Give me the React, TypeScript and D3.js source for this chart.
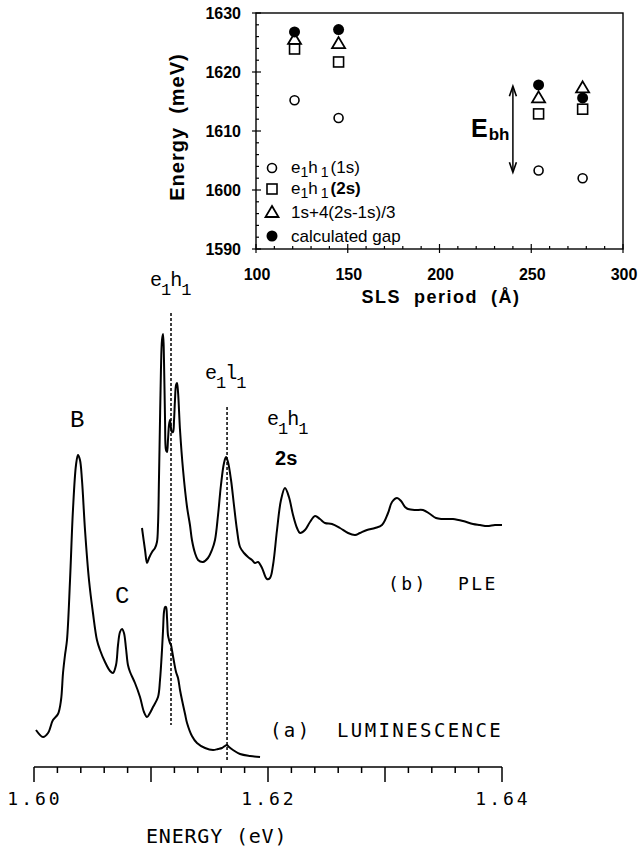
import React from 'react';
import * as d3 from 'd3';

const W = 639;
const H = 848;

// (a) luminescence spectrum: [energy (eV), intensity (a.u.)]
const lumSpectrum: [number, number][] = [
  [1.60017, 0.74], [1.60077, 0.6], [1.6012, 0.68], [1.60162, 0.94], [1.60205, 1.06],
  [1.60231, 1.34], [1.60248, 1.88], [1.60265, 2.24], [1.60282, 2.54], [1.60308, 3.74],
  [1.60333, 5.14], [1.60359, 6.04], [1.60376, 6.24], [1.60393, 6.14], [1.6041, 5.74],
  [1.60436, 4.74], [1.6047, 3.74], [1.60504, 3.08], [1.60538, 2.54], [1.60564, 2.34],
  [1.60607, 2.1], [1.6065, 1.92], [1.60675, 1.88], [1.60701, 2.04], [1.60718, 2.44],
  [1.60735, 2.7], [1.60752, 2.76], [1.60769, 2.68], [1.60786, 2.38], [1.60803, 2.04],
  [1.60821, 1.9], [1.60863, 1.68], [1.60906, 1.4], [1.6094, 1.1], [1.60966, 1.0],
  [1.60991, 1.08], [1.61017, 1.2], [1.6106, 1.4], [1.61077, 1.74], [1.61094, 2.34],
  [1.61103, 2.74], [1.61111, 3.1], [1.6112, 3.2], [1.61128, 3.2], [1.61137, 2.98],
  [1.61145, 2.64], [1.61154, 2.54], [1.61162, 2.48], [1.61171, 2.44], [1.61179, 2.34],
  [1.61197, 2.1], [1.61214, 1.9], [1.61231, 1.78], [1.61248, 1.54], [1.61265, 1.34],
  [1.61291, 1.06], [1.61308, 0.88], [1.6135, 0.62], [1.61393, 0.48], [1.61462, 0.38],
  [1.6153, 0.34], [1.61573, 0.36], [1.61607, 0.38], [1.61632, 0.42], [1.6165, 0.44],
  [1.61667, 0.4], [1.61701, 0.34], [1.61761, 0.26], [1.61846, 0.22], [1.61932, 0.2],
];

// (b) PLE spectrum: [energy (eV), intensity (a.u.)]
const pleSpectrum: [number, number][] = [
  [1.60923, 4.78], [1.60949, 4.34], [1.60966, 4.08], [1.60983, 4.18], [1.61009, 4.3],
  [1.61034, 4.38], [1.61051, 4.5], [1.6106, 4.84], [1.61068, 5.74], [1.61077, 6.94],
  [1.61085, 7.94], [1.61094, 8.54], [1.61103, 8.66], [1.61111, 8.14], [1.6112, 6.94],
  [1.61128, 6.34], [1.61137, 6.3], [1.61145, 6.54], [1.61154, 6.84], [1.61162, 6.94],
  [1.61171, 6.78], [1.61179, 6.7], [1.61188, 6.7], [1.61197, 6.94], [1.61205, 7.34],
  [1.61214, 7.64], [1.61222, 7.68], [1.61231, 7.5], [1.61248, 6.74], [1.61274, 5.94],
  [1.61308, 5.2], [1.61333, 4.84], [1.6135, 4.54], [1.61376, 4.28], [1.61402, 4.14],
  [1.61444, 4.1], [1.61487, 4.18], [1.61521, 4.34], [1.61547, 4.54], [1.61573, 5.04],
  [1.61598, 5.64], [1.61624, 6.08], [1.61641, 6.2], [1.61658, 6.1], [1.61684, 5.74],
  [1.61709, 5.24], [1.61735, 4.74], [1.61761, 4.4], [1.61795, 4.28], [1.61829, 4.2],
  [1.61863, 4.14], [1.61889, 4.08], [1.61915, 4.1], [1.61949, 3.98], [1.61991, 3.76],
  [1.62017, 3.78], [1.62043, 4.04], [1.62077, 4.74], [1.62111, 5.34], [1.62145, 5.58],
  [1.62179, 5.4], [1.62214, 5.04], [1.62248, 4.78], [1.62274, 4.68], [1.62316, 4.74],
  [1.62359, 4.9], [1.62402, 5.02], [1.62444, 4.96], [1.62487, 4.88], [1.62547, 4.86],
  [1.62615, 4.78], [1.62684, 4.68], [1.62744, 4.64], [1.62786, 4.68], [1.62846, 4.74],
  [1.62915, 4.78], [1.62974, 4.84], [1.63026, 5.08], [1.6306, 5.3], [1.63103, 5.38],
  [1.63137, 5.32], [1.63171, 5.2], [1.63197, 5.16], [1.63256, 5.14], [1.63325, 5.14],
  [1.63385, 5.06], [1.63436, 4.98], [1.63487, 4.96], [1.63581, 4.96], [1.63667, 4.92],
  [1.63752, 4.86], [1.63812, 4.84], [1.63872, 4.82], [1.6394, 4.84], [1.64, 4.84],
];

// dashed markers for e1h1 and e1l1
const transitionEnergy = [1.61171, 1.6165];
const transitionTop = [9.08, 7.2];
const transitionBottom = [0.84, 0.14];

const energyTickLabels = [1.6, 1.62, 1.64];

// inset: SLS period dependence
const periods = [121, 145, 254, 278];
const e1h1_1s = [1615.2, 1612.2, 1603.3, 1602.0];
const e1h1_2s = [1623.9, 1621.7, 1612.9, 1613.7];
const extrapolated = [1625.6, 1624.9, 1615.7, 1617.4];
const calcGap = [1626.8, 1627.2, 1617.8, 1615.6];

const insetYTicks = [1590, 1600, 1610, 1620, 1630];
const insetXTicks = [100, 150, 200, 250, 300];

const mono = 'DejaVu Sans Mono, monospace';
const courier = 'Liberation Mono, Courier New, monospace';
const sans = 'Liberation Sans, Arial, Helvetica, sans-serif';

const x = d3.scaleLinear().domain([1.6, 1.64]).range([34, 502]);
const y = d3.scaleLinear().domain([0, 9.4]).range([767, 297]);

const ix = d3.scaleLinear().domain([100, 300]).range([256, 623]);
const iy = d3.scaleLinear().domain([1590, 1630]).range([249, 13]);

const spectrumLine = d3
  .line<[number, number]>()
  .x((d) => x(d[0]))
  .y((d) => y(d[1]))
  .curve(d3.curveCatmullRom.alpha(0.5));

// label like e1h1 with dropped subscripts
const SubLabel = ({ px, py, a, b }: { px: number; py: number; a: string; b: string }) => (
  <text x={px} y={py} fontFamily={courier} fontSize={20} fill="#000">
    {a}
    <tspan dx={-1} dy={9} fontSize={17}>1</tspan>
    <tspan dx={-1} dy={-9}>{b}</tspan>
    <tspan dx={-1} dy={9} fontSize={17}>1</tspan>
  </text>
);

const OpenCircle = ({ cx, cy }: { cx: number; cy: number }) => (
  <circle cx={cx} cy={cy} r={4.5} fill="#fff" stroke="#000" strokeWidth={1.6} />
);
const OpenSquare = ({ cx, cy }: { cx: number; cy: number }) => (
  <rect x={cx - 5} y={cy - 5} width={10} height={10} fill="#fff" stroke="#000" strokeWidth={1.6} />
);
const OpenTriangle = ({ cx, cy }: { cx: number; cy: number }) => (
  <path d={`M${cx},${cy - 6}L${cx + 6.5},${cy + 5}L${cx - 6.5},${cy + 5}Z`} fill="#fff" stroke="#000" strokeWidth={1.8} />
);
const FilledCircle = ({ cx, cy }: { cx: number; cy: number }) => (
  <circle cx={cx} cy={cy} r={5.5} fill="#000" />
);

const Inset = () => {
  const minorY = d3.range(1590, 1631, 2);
  const minorX = d3.range(100, 301, 10);
  const legendRows = [168, 189, 212, 236];
  const arrowX = ix(240);
  const aTop = iy(1617.6);
  const aBot = iy(1603.0);
  return (
    <g>
      <rect x={ix(100)} y={iy(1630)} width={ix(300) - ix(100)} height={iy(1590) - iy(1630)} fill="none" stroke="#000" strokeWidth={1.4} />
      {minorY.map((v) => (
        <line key={'my' + v} x1={ix(100) - (v % 10 === 0 ? 4 : 0)} x2={ix(100) + (v % 10 === 0 ? 5 : 3)} y1={iy(v)} y2={iy(v)} stroke="#000" strokeWidth={1.2} />
      ))}
      {minorX.map((v) => (
        <line key={'mx' + v} x1={ix(v)} x2={ix(v)} y1={iy(1590) + (v % 50 === 0 ? 4 : 0)} y2={iy(1590) - (v % 50 === 0 ? 5 : 3)} stroke="#000" strokeWidth={1.2} />
      ))}
      {insetYTicks.map((v) => (
        <text key={'yl' + v} x={241} y={iy(v) + 6} textAnchor="end" fontFamily={sans} fontWeight="bold" fontSize={16} fill="#000">
          {v}
        </text>
      ))}
      {insetXTicks.map((v) => (
        <text key={'xl' + v} x={ix(v) + 1} y={280} textAnchor="middle" fontFamily={sans} fontWeight="bold" fontSize={16} fill="#000">
          {v}
        </text>
      ))}
      <text x={441} y={303} textAnchor="middle" fontFamily={sans} fontWeight="bold" fontSize={18} letterSpacing={1.5} fill="#000" style={{ whiteSpace: 'pre' }}>
        {'SLS  period  (Å)'}
      </text>
      <text transform="translate(184,127) rotate(-90)" textAnchor="middle" fontFamily={sans} fontWeight="bold" fontSize={20} letterSpacing={1} fill="#000" style={{ whiteSpace: 'pre' }}>
        {'Energy  (meV)'}
      </text>

      {periods.map((p, i) => (
        <g key={'pt' + p}>
          <OpenCircle cx={ix(p)} cy={iy(e1h1_1s[i])} />
          <OpenSquare cx={ix(p)} cy={iy(e1h1_2s[i])} />
          <OpenTriangle cx={ix(p)} cy={iy(extrapolated[i])} />
          <FilledCircle cx={ix(p)} cy={iy(calcGap[i])} />
        </g>
      ))}

      <line x1={arrowX} x2={arrowX} y1={aTop + 2} y2={aBot - 2} stroke="#000" strokeWidth={1.5} />
      <path d={`M${arrowX - 3.5},${aTop + 10}L${arrowX},${aTop}L${arrowX + 3.5},${aTop + 10}`} fill="none" stroke="#000" strokeWidth={1.6} />
      <path d={`M${arrowX - 3.5},${aBot - 10}L${arrowX},${aBot}L${arrowX + 3.5},${aBot - 10}`} fill="none" stroke="#000" strokeWidth={1.6} />
      <text x={471} y={137} fontFamily={sans} fontWeight="bold" fontSize={25} fill="#000">
        E
        <tspan dx={1} dy={3} fontSize={17}>bh</tspan>
      </text>

      <OpenCircle cx={272} cy={legendRows[0]} />
      <OpenSquare cx={272} cy={legendRows[1]} />
      <OpenTriangle cx={272} cy={legendRows[2]} />
      <FilledCircle cx={272} cy={legendRows[3]} />
      <g fontFamily={sans} fontSize={17} fill="#000">
        <text x={291} y={legendRows[0] + 5}>
          e<tspan fontSize={14} dy={4}>1</tspan>
          <tspan dy={-4}>h</tspan>
          <tspan fontSize={14} dx={3} dy={4}>1</tspan>
          <tspan dx={2} dy={-4}>(1s)</tspan>
        </text>
        <text x={291} y={legendRows[1] + 5}>
          e<tspan fontSize={14} dy={4}>1</tspan>
          <tspan dy={-4}>h</tspan>
          <tspan fontSize={14} dx={3} dy={4}>1</tspan>
          <tspan dx={2} dy={-4} fontWeight="bold">(2s)</tspan>
        </text>
        <text x={291} y={legendRows[2] + 6}>1s+4(2s-1s)/3</text>
        <text x={291} y={legendRows[3] + 6}>calculated gap</text>
      </g>
    </g>
  );
};

const App = () => {
  const minor = d3.range(0, 21).map((k) => 1.6 + k * 0.002);
  return (
    <svg width={W} height={H} viewBox={`0 0 ${W} ${H}`} style={{ position: 'absolute', left: 0, top: 0, background: '#fff' }}>
      <rect width={W} height={H} fill="#fff" />
      <Inset />

      {/* spectra */}
      <path d={spectrumLine(lumSpectrum) ?? ''} fill="none" stroke="#000" strokeWidth={2} strokeLinejoin="round" />
      <path d={spectrumLine(pleSpectrum) ?? ''} fill="none" stroke="#000" strokeWidth={2} strokeLinejoin="round" />

      {transitionEnergy.map((e, i) => (
        <line key={'tr' + i} x1={x(e)} x2={x(e)} y1={y(transitionTop[i])} y2={y(transitionBottom[i])} stroke="#000" strokeWidth={1.5} strokeDasharray="3,2" />
      ))}

      {/* energy axis */}
      <line x1={x(1.6)} x2={x(1.64)} y1={767} y2={767} stroke="#000" strokeWidth={1.6} />
      {minor.map((v, k) => (
        <line key={'t' + k} x1={x(v)} x2={x(v)} y1={767} y2={767 + (k % 5 === 0 ? 15 : 6)} stroke="#000" strokeWidth={1.5} />
      ))}
      {energyTickLabels.map((v) => (
        <text key={'el' + v} x={x(v) + 1} y={805} textAnchor="middle" fontFamily={mono} fontSize={18} letterSpacing={3} fill="#000">
          {v.toFixed(2)}
        </text>
      ))}
      <text x={146} y={843} fontFamily={mono} fontSize={20} letterSpacing={0.8} fill="#000">
        ENERGY (eV)
      </text>

      {/* peak labels */}
      <SubLabel px={x(1.60992)} py={y(9.62)} a="e" b="h" />
      <SubLabel px={x(1.61462)} py={y(7.76)} a="e" b="l" />
      <SubLabel px={x(1.61991)} py={y(6.84)} a="e" b="h" />
      <text x={x(1.6206)} y={y(6.04)} fontFamily={sans} fontWeight="bold" fontSize={20} fill="#000">2s</text>
      <text x={x(1.60308)} y={y(6.8)} fontFamily={courier} fontSize={24} fill="#000">B</text>
      <text x={x(1.60692)} y={y(3.28)} fontFamily={courier} fontSize={24} fill="#000">C</text>

      <text x={x(1.62017)} y={y(0.6)} fontFamily={mono} fontSize={19} letterSpacing={2.4} fill="#000">(a)</text>
      <text x={x(1.6259)} y={y(0.6)} fontFamily={mono} fontSize={19} letterSpacing={2.4} fill="#000">LUMINESCENCE</text>
      <text x={x(1.63026)} y={y(3.54)} fontFamily={mono} fontSize={18} letterSpacing={2.4} fill="#000">(b)</text>
      <text x={x(1.63624)} y={y(3.54)} fontFamily={mono} fontSize={18} letterSpacing={2.4} fill="#000">PLE</text>
    </svg>
  );
};

export default App;
